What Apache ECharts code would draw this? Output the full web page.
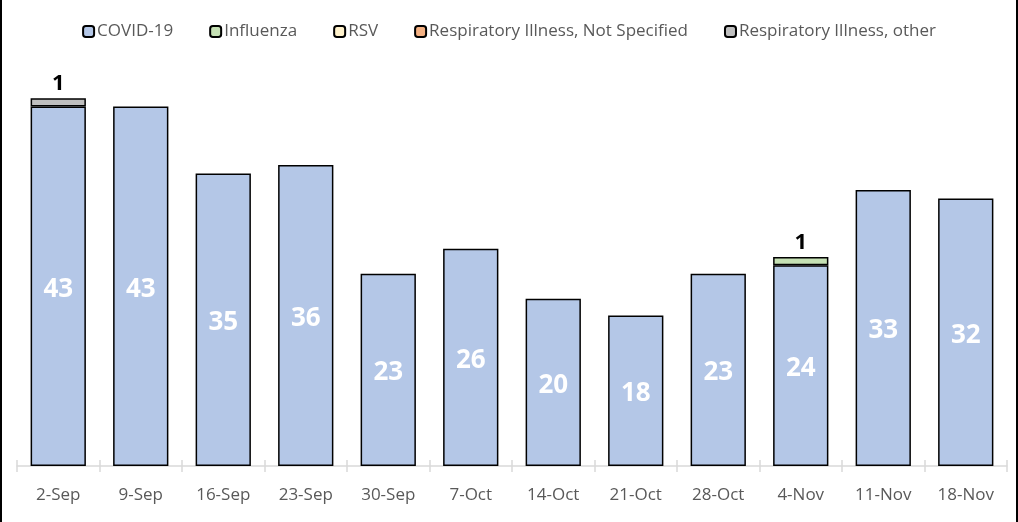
<!DOCTYPE html>
<html>
<head>
<meta charset="utf-8">
<script src="https://cdn.jsdelivr.net/npm/echarts@6/dist/echarts.min.js"></script>
<style>
html,body{margin:0;padding:0;background:#fff;}
#c{width:1018px;height:522px;}
</style>
</head>
<body>
<div id="c"></div>
<script>
const categories = ['2-Sep','9-Sep','16-Sep','23-Sep','30-Sep','7-Oct','14-Oct','21-Oct','28-Oct','4-Nov','11-Nov','18-Nov'];
const covid = [43,43,35,36,23,26,20,18,23,24,33,32];
const influenza = [0,0,0,0,0,0,0,0,0,1,0,0];
const rsv = [0,0,0,0,0,0,0,0,0,0,0,0];
const notSpecified = [0,0,0,0,0,0,0,0,0,0,0,0];
const other = [1,0,0,0,0,0,0,0,0,0,0,0];

const FONT = '"Open Sans", "Noto Sans", sans-serif';
const chart = echarts.init(document.getElementById('c'));
const border = {borderColor:'#000', borderWidth:1.5};
const nz = arr => arr.map(v => v ? v : null);
function topLabel(){
  return {show:true, position:'top', distance:3, color:'#000', fontSize:22, fontWeight:'bold', fontFamily:FONT,
    formatter: p => p.value ? String(p.value) : ''};
}
const option = {
  animation:false,
  backgroundColor:'#fff',
  graphic:[{type:'rect', shape:{x:1,y:-2,width:1016,height:525}, style:{fill:'none', stroke:'#000', lineWidth:2}, silent:true}],
  legend:{
    top:18, left:'center', itemWidth:11, itemHeight:11, itemGap:36,
    textStyle:{color:'#595959', fontSize:17, fontFamily:FONT, padding:[0,0,0,-2]},
    data:['COVID-19','Influenza','RSV','Respiratory Illness, Not Specified','Respiratory Illness, other']
  },
  grid:{left:17, right:11, top:48, bottom:56},
  xAxis:[{
    type:'category', data:categories,
    axisLine:{lineStyle:{color:'#D9D9D9', width:1.5}},
    axisTick:{show:true, length:6, lineStyle:{color:'#D9D9D9', width:1.5}},
    axisLabel:{color:'#595959', fontSize:17, fontFamily:FONT, margin:21}
  },{
    type:'category', data:categories, position:'bottom',
    axisLine:{show:false},
    axisTick:{show:true, inside:true, length:6, lineStyle:{color:'#D9D9D9', width:1.5}},
    axisLabel:{show:false}
  }],
  yAxis:{type:'value', min:0, max:50, show:false, splitLine:{show:false}},
  series:[
    {name:'COVID-19', type:'bar', stack:'a', data:nz(covid), barCategoryGap:'33%', z:3,
      itemStyle:Object.assign({color:'#B4C7E7'}, border),
      label:{show:true, position:'inside', offset:[0,3], color:'#fff', fontSize:26, fontWeight:'bold', fontFamily:FONT}},
    {name:'Influenza', type:'bar', stack:'a', data:nz(influenza), z:3,
      itemStyle:Object.assign({color:'#C5E0B4'}, border), label:topLabel()},
    {name:'RSV', type:'bar', stack:'a', data:nz(rsv), z:3,
      itemStyle:Object.assign({color:'#FFF2CC'}, border), label:topLabel()},
    {name:'Respiratory Illness, Not Specified', type:'bar', stack:'a', data:nz(notSpecified), z:3,
      itemStyle:Object.assign({color:'#F4B183'}, border), label:topLabel()},
    {name:'Respiratory Illness, other', type:'bar', stack:'a', data:nz(other), z:3,
      itemStyle:Object.assign({color:'#BFBFBF'}, border), label:topLabel()}
  ]
};
chart.setOption(option);
</script>
</body>
</html>
